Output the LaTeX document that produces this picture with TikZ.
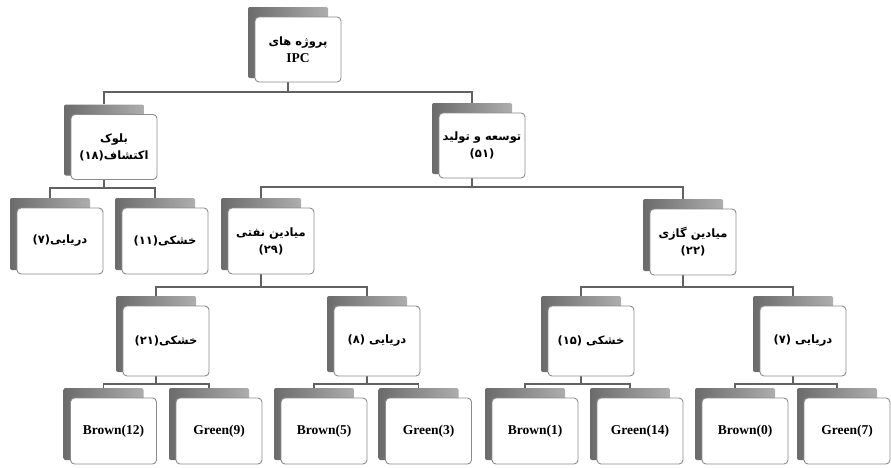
\documentclass[tikz,border=0pt]{standalone}
\usepackage{fontspec}
\setmainfont{Liberation Serif}
\newfontfamily\fa[Script=Arabic]{DejaVu Sans}
\TeXXeTstate=1
\usetikzlibrary{backgrounds}
\newcommand\fatext[1]{{\fa\fontsize{11.5}{18}\selectfont\beginR #1\endR}}
\newcommand\card[5]{%
  \node[backcard, minimum height=#4pt+6pt] (#1b) at (#2-10,#3-7) {};
  \node[frontcard, minimum height=#4pt] (#1) at (#2,#3) {#5};
}
\tikzset{
  x=1pt, y=-1pt,
  backcard/.style={rectangle, rounded corners=2pt, left color=black!58, right color=black!32, draw=none, inner sep=0pt, minimum width=80pt},
  frontcard/.style={rectangle, rounded corners=4pt, fill=white, draw=black!45, line width=0.9pt, inner sep=0pt, minimum width=86pt, align=center, font=\bfseries\fontsize{13.5}{17}\selectfont},
  link/.style={draw=black!62, line width=1.1pt},
}
\begin{document}
\begin{tikzpicture}
\useasboundingbox (0,0) rectangle (891,467);
% level 0
\card{root}{298}{49.5}{65}{\fatext{پروژه های}\\IPC}
% level 1
\card{blok}{114}{147}{65}{\fatext{بلوک}\\\fatext{اکتشاف(۱۸)}}
\card{tose}{482}{145.5}{65}{\fatext{توسعه و تولید}\\\fatext{(۵۱)}}
% level 2
\card{dA}{60}{241}{66}{\fatext{دریایی(۷)}}
\card{kA}{165}{241}{66}{\fatext{خشکی(۱۱)}}
\card{naft}{271}{241}{66}{\fatext{میادین نفتی}\\\fatext{(۲۹)}}
\card{gaz}{693}{242}{66}{\fatext{میادین گازی}\\\fatext{(۲۲)}}
% level 3
\card{kB}{166}{341}{70}{\fatext{خشکی(۲۱)}}
\card{dB}{377}{341}{70}{\fatext{دریایی (۸)}}
\card{kC}{591}{341}{70}{\fatext{خشکی (۱۵)}}
\card{dC}{803}{341}{70}{\fatext{دریایی (۷)}}
% level 4
\card{b12}{113.5}{431}{66}{Brown(12)}
\card{g9}{219}{431}{66}{Green(9)}
\card{b5}{324}{431}{66}{Brown(5)}
\card{g3}{428.5}{431}{66}{Green(3)}
\card{b1}{535}{431}{66}{Brown(1)}
\card{g14}{640}{431}{66}{Green(14)}
\card{b0}{745}{431}{66}{Brown(0)}
\card{g7}{847}{431}{66}{Green(7)}
% connectors
\begin{pgfonlayer}{background}
\fill[white] (0,0) rectangle (891,467);
\coordinate (bus1) at (0,92);
\coordinate (bus2a) at (0,188);
\coordinate (bus2b) at (0,187);
\coordinate (bus3) at (0,287);
\coordinate (bus4) at (0,384);
\draw[link] (rootb.center) -- (rootb.center |- bus1);
\draw[link] (blokb.north) |- (bus1 -| toseb.north) -- (toseb.north);
\draw[link] (blokb.center) -- (blokb.center |- bus2a);
\draw[link] (dAb.north) |- (bus2a -| kAb.north) -- (kAb.north);
\draw[link] (toseb.center) -- (toseb.center |- bus2b);
\draw[link] (naftb.north) |- (bus2b -| gazb.north) -- (gazb.north);
\draw[link] (naftb.center) -- (naftb.center |- bus3);
\draw[link] (kBb.north) |- (bus3 -| dBb.north) -- (dBb.north);
\draw[link] (gazb.center) -- (gazb.center |- bus3);
\draw[link] (kCb.north) |- (bus3 -| dCb.north) -- (dCb.north);
\draw[link] (kBb.center) -- (kBb.center |- bus4);
\draw[link] (b12b.north) |- (bus4 -| g9b.north) -- (g9b.north);
\draw[link] (dBb.center) -- (dBb.center |- bus4);
\draw[link] (b5b.north) |- (bus4 -| g3b.north) -- (g3b.north);
\draw[link] (kCb.center) -- (kCb.center |- bus4);
\draw[link] (b1b.north) |- (bus4 -| g14b.north) -- (g14b.north);
\draw[link] (dCb.center) -- (dCb.center |- bus4);
\draw[link] (b0b.north) |- (bus4 -| g7b.north) -- (g7b.north);
\end{pgfonlayer}
\end{tikzpicture}
\end{document}
